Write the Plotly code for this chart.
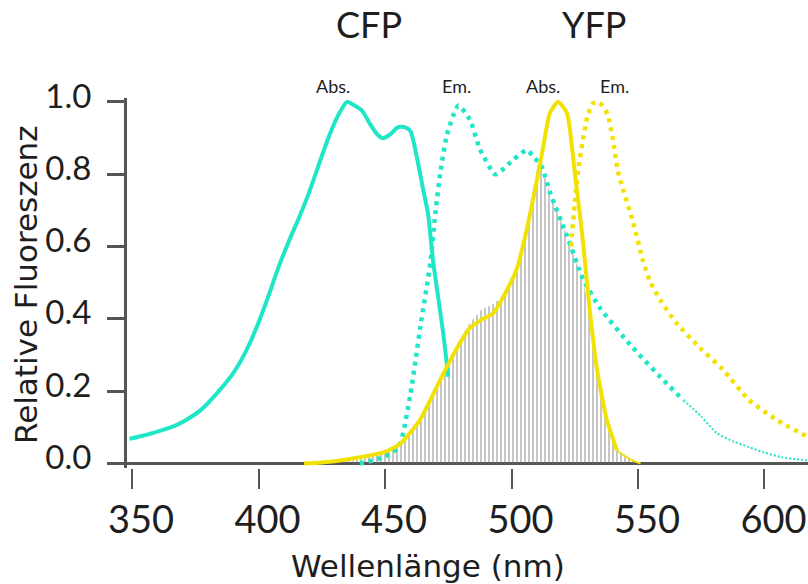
import plotly.graph_objects as go

# ---------------- data ----------------
cfp_abs_nm = [349, 355, 360, 365, 370, 377, 383, 390, 395, 400, 404, 408, 412, 416, 420, 423,
              426, 429, 432, 435, 438, 441, 444, 447, 449, 452, 455, 458, 460, 462.5, 465,
              467, 469, 471, 473, 475]
cfp_abs_y = [0.068, 0.078, 0.088, 0.099, 0.115, 0.147, 0.19, 0.25, 0.31, 0.39, 0.465, 0.545,
             0.615, 0.68, 0.75, 0.81, 0.87, 0.925, 0.97, 1.0, 0.99, 0.975, 0.94, 0.91, 0.90,
             0.91, 0.93, 0.93, 0.92, 0.85, 0.76, 0.69, 0.56, 0.46, 0.36, 0.24]

cfp_em_nm = [440, 446, 450, 453, 456, 460, 464, 468, 470, 472, 474.5, 479, 483.6, 487.5,
             493.5, 496, 500.6, 506.1, 508.5, 512, 515.2, 521.9, 528.3, 535, 548, 561.5, 568]
cfp_em_y = [0.0, 0.01, 0.02, 0.03, 0.055, 0.19, 0.38, 0.56, 0.70, 0.81, 0.91, 0.99, 0.95,
            0.87, 0.80, 0.81, 0.84, 0.867, 0.85, 0.82, 0.75, 0.63, 0.51, 0.43, 0.32, 0.22, 0.175]
cfp_em_tail_nm = [568, 575, 581, 588, 594, 600, 607, 617.2]
cfp_em_tail_y = [0.175, 0.13, 0.085, 0.06, 0.045, 0.03, 0.017, 0.008]

yfp_abs_nm = [418, 425, 430, 440, 450, 456, 463.8, 471.7, 478.5, 483.6, 488.7, 492.7, 498.2,
              502.2, 506.1, 508.5, 510.5, 512.5, 515.2, 518.4, 521.9, 523.9, 525.1, 526.5,
              528.3, 531, 533.8, 537.7, 541.7]
yfp_abs_y = [0.0, 0.003, 0.006, 0.017, 0.032, 0.055, 0.12, 0.23, 0.32, 0.375, 0.40, 0.415,
             0.48, 0.54, 0.65, 0.73, 0.80, 0.875, 0.97, 1.0, 0.97, 0.875, 0.80, 0.72, 0.61,
             0.42, 0.26, 0.12, 0.036]
yfp_abs_tail_nm = [541.7, 545, 548, 551]
yfp_abs_tail_y = [0.036, 0.02, 0.008, 0.0]

yfp_em_nm = [523.5, 525, 526.3, 528, 530, 532, 534, 536, 538, 540, 542, 544, 548, 552, 555,
             559, 565, 574.5, 583.5, 594, 605, 617.2]
yfp_em_y = [0.60, 0.72, 0.81, 0.885, 0.96, 0.995, 1.0, 0.99, 0.965, 0.90, 0.81, 0.76, 0.67,
            0.56, 0.50, 0.45, 0.39, 0.32, 0.26, 0.175, 0.12, 0.073]

overlap_nm = [431, 440, 450, 456, 463.8, 471.7, 478.5, 483.6, 488, 492.5, 496, 500, 503, 506,
              508.5, 510.5, 512, 515.2, 521.9, 528, 531, 533.8, 537.7, 541.7, 551]
overlap_y = [0.0, 0.012, 0.03, 0.055, 0.12, 0.23, 0.33, 0.39, 0.425, 0.44, 0.46, 0.51, 0.57,
             0.66, 0.76, 0.83, 0.82, 0.75, 0.63, 0.51, 0.42, 0.26, 0.12, 0.036, 0.0]

y_ticks = [0.0, 0.2, 0.4, 0.6, 0.8, 1.0]
y_tick_labels = ["0.0", "0.2", "0.4", "0.6", "0.8", "1.0"]
x_ticks = [350, 400, 450, 500, 550, 600]
x_tick_labels = ["350", "400", "450", "500", "550", "600"]

CYAN = "#1FE6C6"
YELLOW = "#F2E203"
AXIS = "#555555"
TEXT = "#1e1e1e"

fig = go.Figure()

# overlap hatch
fig.add_trace(go.Scatter(
    x=overlap_nm, y=overlap_y, mode="lines", line=dict(width=0, color="rgba(0,0,0,0)"),
    fill="tozeroy", fillcolor="rgba(0,0,0,0)",
    fillpattern=dict(shape="|", size=4, solidity=0.4, fgcolor="#707070"),
    hoverinfo="skip", showlegend=False))

# CFP emission (dotted)
fig.add_trace(go.Scatter(x=cfp_em_nm, y=cfp_em_y, mode="lines",
                         line=dict(color=CYAN, width=4.5, dash="4px,5px", shape="spline", smoothing=0.6),
                         showlegend=False))
fig.add_trace(go.Scatter(x=cfp_em_tail_nm, y=cfp_em_tail_y, mode="lines",
                         line=dict(color=CYAN, width=2, dash="2px,2px", shape="spline", smoothing=0.6),
                         showlegend=False))
# YFP emission (dotted)
fig.add_trace(go.Scatter(x=yfp_em_nm, y=yfp_em_y, mode="lines",
                         line=dict(color=YELLOW, width=4.5, dash="4px,5px", shape="spline", smoothing=0.6),
                         showlegend=False))
# CFP absorption (solid)
fig.add_trace(go.Scatter(x=cfp_abs_nm, y=cfp_abs_y, mode="lines",
                         line=dict(color=CYAN, width=4, shape="spline", smoothing=0.7),
                         showlegend=False))
# YFP absorption (solid)
fig.add_trace(go.Scatter(x=yfp_abs_nm, y=yfp_abs_y, mode="lines",
                         line=dict(color=YELLOW, width=4, shape="spline", smoothing=0.6),
                         showlegend=False))
fig.add_trace(go.Scatter(x=yfp_abs_tail_nm, y=yfp_abs_tail_y, mode="lines",
                         line=dict(color=YELLOW, width=2, shape="spline", smoothing=0.5),
                         showlegend=False))

fig.update_layout(
    width=808, height=584,
    margin=dict(l=127, r=0, t=98, b=116),
    paper_bgcolor="white", plot_bgcolor="white",
    showlegend=False,
    xaxis=dict(range=[348.0, 617.2], showgrid=False, zeroline=False, showline=False,
               tickmode="array", tickvals=x_ticks, ticktext=x_tick_labels,
               ticks="outside", ticklen=20, tickwidth=2, tickcolor=AXIS,
               ticklabelstandoff=-2, ticklabelshift=9,
               tickfont=dict(family="Liberation Sans Narrow, Arial Narrow, Lato, sans-serif",
                             size=38, color=TEXT)),
    yaxis=dict(range=[-0.0125, 1.011], showgrid=False,
               zeroline=True, zerolinecolor=AXIS, zerolinewidth=3,
               showline=True, linecolor=AXIS, linewidth=3,
               tickmode="array", tickvals=y_ticks, ticktext=y_tick_labels,
               ticks="outside", ticklen=17, tickwidth=3, tickcolor=AXIS,
               ticklabelstandoff=9, ticklabelshift=-6,
               tickfont=dict(family="Lato, sans-serif", size=33, color=TEXT)),
)

ann_font_big = dict(family="Lato, sans-serif", size=36, color=TEXT)
ann_font_small = dict(family="Lato, sans-serif", size=18, color=TEXT)
title_font = dict(family="DejaVu Sans, sans-serif", size=31, color=TEXT)

annotations = [
    dict(text="CFP", x=369, y=24, font=ann_font_big),
    dict(text="YFP", x=594, y=24, font=ann_font_big),
    dict(text="Abs.", x=333, y=86, font=ann_font_small),
    dict(text="Em.", x=456, y=86, font=ann_font_small),
    dict(text="Abs.", x=543, y=86, font=ann_font_small),
    dict(text="Em.", x=614, y=86, font=ann_font_small),
    dict(text="Wellenlänge (nm)", x=428, y=566, font=title_font),
]
plot_w, plot_h = 808 - 127, 584 - 98 - 116
for a in annotations:
    fig.add_annotation(text=a["text"], xref="paper", yref="paper",
                       x=(a["x"] - 127) / plot_w, y=(584 - 116 - a["y"]) / plot_h,
                       xanchor="center", yanchor="middle", showarrow=False,
                       font=a["font"])
fig.add_annotation(text="Relative Fluoreszenz", xref="paper", yref="paper",
                   x=(26 - 127) / plot_w, y=(584 - 116 - 285) / plot_h,
                   xanchor="center", yanchor="middle", showarrow=False,
                   textangle=-90, font=dict(family="DejaVu Sans, sans-serif", size=31, color=TEXT))

fig.write_html("out.html", config={"displayModeBar": False},
               post_script="document.body.style.margin='0px';document.body.style.overflow='hidden';")
